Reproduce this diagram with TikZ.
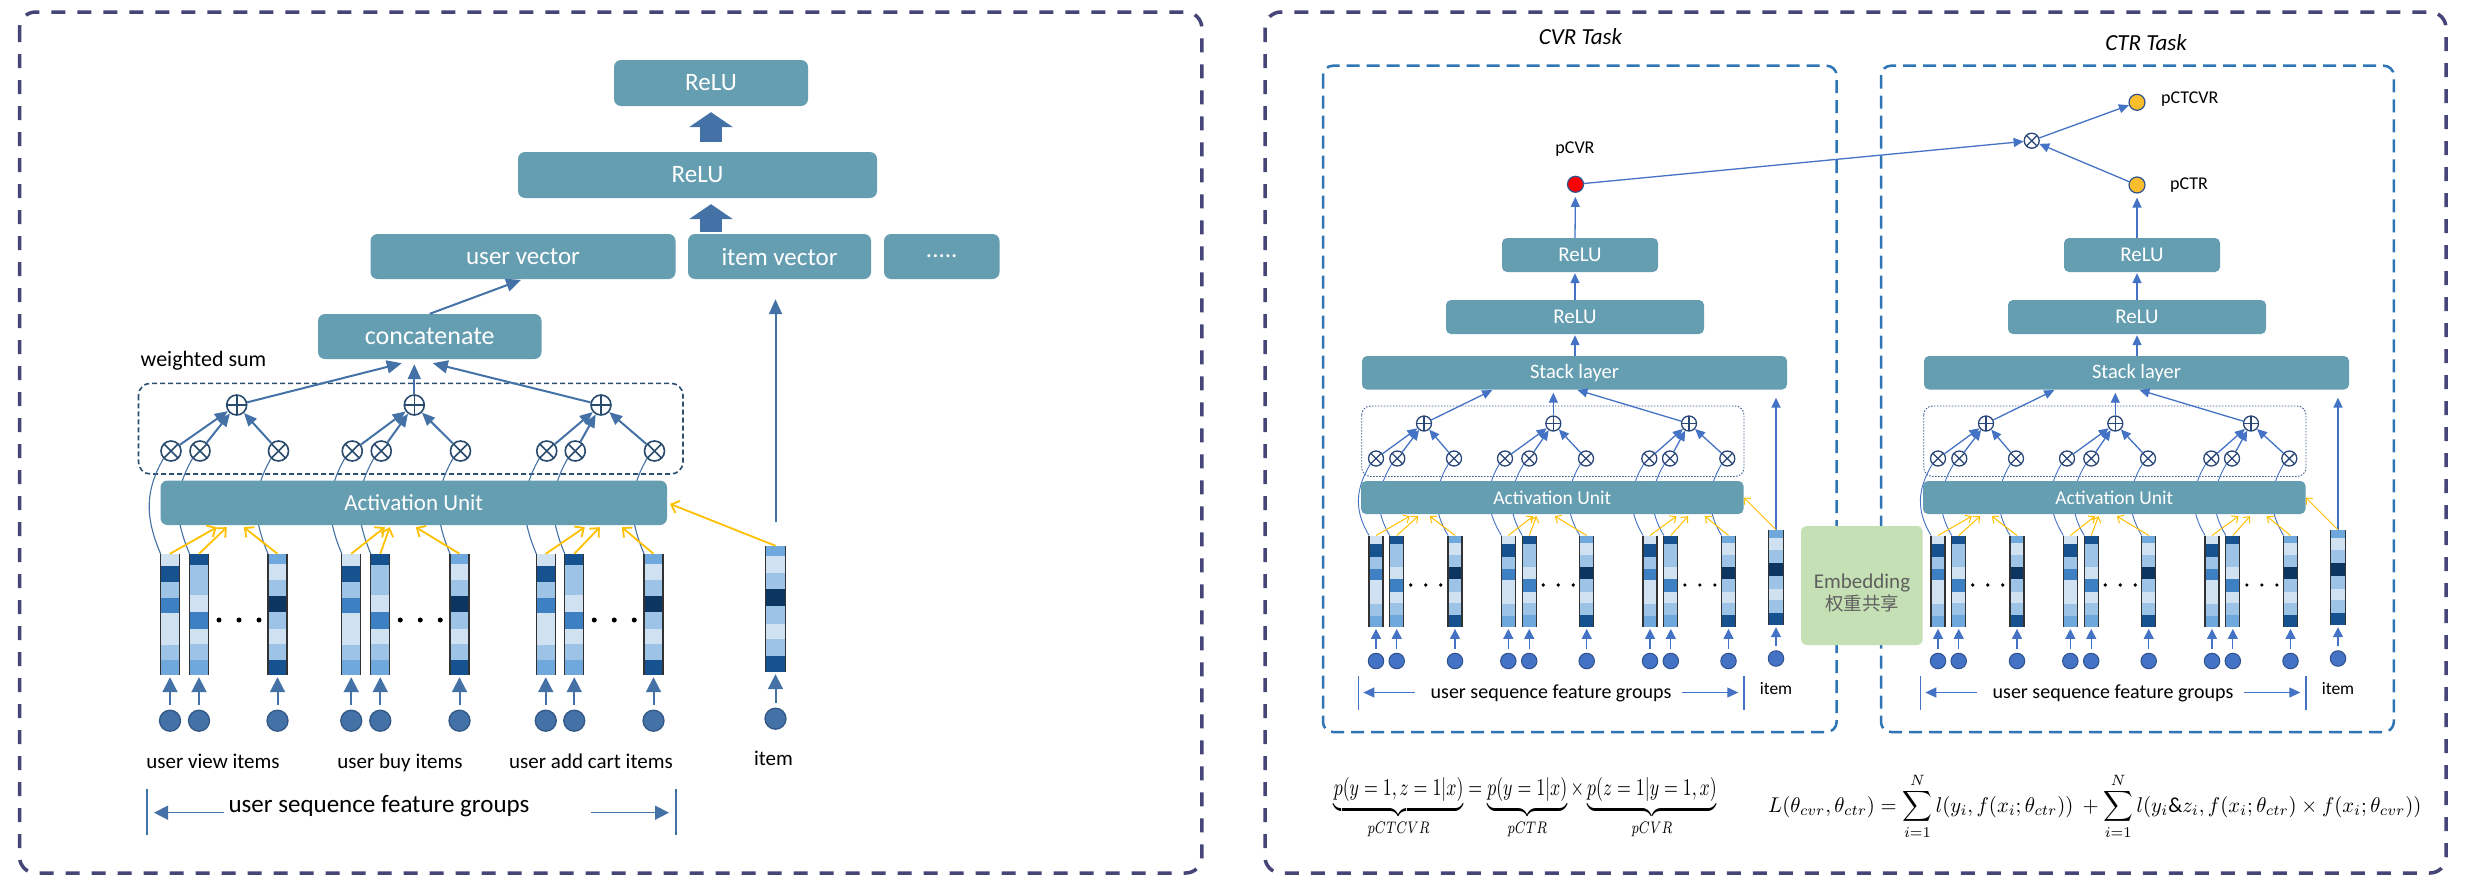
\documentclass[tikz,border=0pt]{standalone}
\usepackage{amsmath}
\usepackage{graphicx}
\usepackage{fontspec}
\setmainfont{Carlito}
\newfontfamily\cjkfont{Noto Sans CJK SC}
\usetikzlibrary{arrows.meta}
\newcommand{\setfs}[1]{\fontsize{#1pt}{#1pt}\selectfont}

\definecolor{boxc}{RGB}{101,158,177}
\definecolor{lblue}{RGB}{68,114,166}
\definecolor{lincd}{RGB}{50,88,135}
\definecolor{rblue}{RGB}{68,114,196}
\definecolor{rincd}{RGB}{47,82,143}
\definecolor{ldk}{RGB}{40,75,110}
\definecolor{rdk}{RGB}{40,70,120}
\definecolor{orng}{RGB}{255,192,0}
\definecolor{ylw}{RGB}{250,190,45}
\definecolor{panelc}{RGB}{69,69,120}
\definecolor{taskc}{RGB}{46,117,182}
\definecolor{lgrpc}{RGB}{46,80,112}
\definecolor{rgrpc}{RGB}{59,91,143}
\definecolor{embg}{RGB}{197,224,180}
\definecolor{embt}{RGB}{95,95,95}
\definecolor{vedgec}{RGB}{50,50,50}
\definecolor{va}{RGB}{208,225,242}
\definecolor{vb}{RGB}{157,195,230}
\definecolor{vc}{RGB}{111,168,220}
\definecolor{vd}{RGB}{61,128,196}
\definecolor{ve}{RGB}{21,82,143}
\definecolor{vf}{RGB}{12,53,97}

\def\patA{0/.096/va,.096/.231/ve,.231/.364/vb,.364/.488/vd,.488/.755/va,.755/.879/vb,.879/1/vc}
\def\patB{0/.088/ve,.088/.342/vb,.342/.479/va,.479/.617/vd,.617/.741/va,.741/.873/vb,.873/1/vc}
\def\patC{0/.08/vc,.08/.212/va,.212/.344/vb,.344/.479/vf,.479/.617/vb,.617/.741/va,.741/.873/vb,.873/1/ve}

% name, center x, top y, width, height, pattern
\newcommand{\vecbar}[6]{%
  \node[inner sep=0pt, minimum width=#4pt, minimum height=#5pt] (#1) at (#2,{#3+#5/2}) {};
  \foreach \pa/\pb/\pc in #6 {\fill[\pc] ({#2-#4/2},{#3+\pa*#5}) rectangle ({#2+#4/2},{#3+\pb*#5});}
  \draw[vedge] (#1.north west) -- (#1.south west) (#1.north east) -- (#1.south east);
}

\newcommand{\taskcol}[1]{%
  \node[rbox, minimum width=156pt, minimum height=34pt, font=\setfs{21}] (#1reluU) at (1580,255) {ReLU};
  \node[rbox, minimum width=258pt, minimum height=34pt, font=\setfs{21}] (#1reluL) at (1575,317) {ReLU};
  \node[rbox, minimum width=425pt, minimum height=33.5pt, font=\setfs{20.5}] (#1stack) at (1574.5,372.75) {Stack layer};
  \draw[rarr, shorten >=1pt] (#1reluL.south |- #1stack.north) -- (#1reluL.south);
  \draw[rarr, shorten >=1pt] (#1reluL.north) -- (#1reluL.north |- #1reluU.south);
  \draw[rgrp] (1361.7,406) rectangle (1744,476.5);
  \foreach \g/\xa/\xb/\xc/\oa/\ob/\oc/\xp in {1/1376/1396.7/1455/1376/1397.3/1454/1424,2/1508.3/1529.2/1586.7/1505/1529.3/1586/1553.3,3/1650/1670.8/1728.5/1649.3/1670/1727.3/1689}{
    \vecbar{#1v\g a}{\xa}{535.7}{13.5}{91}{\patA}
    \vecbar{#1v\g b}{\xb}{535.7}{13.5}{91}{\patB}
    \vecbar{#1v\g c}{\xc}{535.7}{13.5}{91}{\patC}
    \node[roplus] (#1p\g) at (\xp,423.5) {};
    \foreach \k/\xx/\ox in {a/\xa/\oa,b/\xb/\ob,c/\xc/\oc}{
      \node[rotimes] (#1x\g\k) at (\ox,458.5) {};
      \node[rin] (#1c\g\k) at (\xx,661) {};
      \draw[rinarr] (#1c\g\k) -- (#1v\g\k);
      \draw[rcurve] (#1v\g\k.north west) .. controls +(-15,-25) and +(-15,25) .. (#1x\g\k.south west);
      \draw[rarr] (#1x\g\k) -- (#1p\g);
    }
    \foreach \dd in {0,1,2} \fill ({\xb+14+15*\dd},585) circle (1.8pt);
  }
  \draw[rarr, shorten >=1pt] (#1p1) -- ([xshift=131.3pt]#1stack.south west);
  \draw[rarr, shorten >=3pt] (#1p2) -- (#1p2 |- #1stack.south);
  \draw[rarr, shorten >=1pt] (#1p3) -- ([xshift=214.7pt]#1stack.south west);
  \node[rbox, minimum width=382.5pt, minimum height=33pt, font=\setfs{19.5}] (#1au) at (1552.25,497.5) {Activation Unit};
  \foreach \n/\tx in {1a/49,1b/57.3,1c/69,2a/172.3,2b/175.7,2c/194,3a/315.7,3b/327.3,3c/344}
    \draw[roarr] (#1v\n.north) -- ([xshift=\tx pt,yshift=-2pt]#1au.south west);
  \vecbar{#1iv}{1776}{530}{14.6}{95}{\patC}
  \node[rin] (#1ic) at (1776,658.5) {};
  \draw[rinarr] (#1ic) -- (#1iv);
  \draw[rarr, line width=1.8pt, shorten >=8pt] (#1iv.north) -- (#1iv.north |- #1stack.south);
  \draw[roarr] (#1iv.north) -- (#1au.east);
  \node[lbl, font=\setfs{20}] (#1sfg) at (1551,698) {user sequence feature groups};
  \node[lbl, font=\setfs{17.5}] (#1item) at (1776,694) {item};
  \draw[rbar] (1358.3,676) -- (1358.3,710) (1744,676) -- (1744,710);
  \coordinate (#1gal) at (1415,692.5);
  \coordinate (#1gbl) at (1363.3,692.5);
  \coordinate (#1gar) at (1682.3,692.5);
  \coordinate (#1gbr) at (1738.3,692.5);
  \draw[rgarr] (#1gal) -- (#1gbl);
  \draw[rgarr] (#1gar) -- (#1gbr);
}

\begin{document}
\begin{tikzpicture}[x=1pt,y=-1pt,
  panelbox/.style={draw=panelc, line width=3.5pt, dash pattern=on 14pt off 12pt, rounded corners=16pt},
  lbox/.style={fill=boxc, rounded corners=7pt, text=white, inner sep=0pt, font=\setfs{25}},
  rbox/.style={fill=boxc, rounded corners=5pt, text=white, inner sep=0pt, font=\setfs{20}},
  lgrp/.style={draw=lgrpc, line width=1.6pt, dash pattern=on 5pt off 3pt, rounded corners=12pt},
  rgrp/.style={draw=rgrpc, line width=0.9pt, dash pattern=on 1.5pt off 1.5pt, rounded corners=9pt},
  taskbox/.style={draw=taskc, line width=2.5pt, dash pattern=on 13pt off 7pt, rounded corners=10pt},
  vedge/.style={draw=vedgec, line width=1.2pt},
  lotimes/.style={circle, draw=ldk, fill=white, line width=1.6pt, minimum size=20pt, inner sep=0pt,
    path picture={\draw[ldk, line width=1.6pt] (path picture bounding box.north west) -- (path picture bounding box.south east) (path picture bounding box.north east) -- (path picture bounding box.south west);}},
  loplus/.style={circle, draw=ldk, fill=white, line width=1.6pt, minimum size=20pt, inner sep=0pt,
    path picture={\draw[ldk, line width=1.6pt] (path picture bounding box.north) -- (path picture bounding box.south) (path picture bounding box.west) -- (path picture bounding box.east);}},
  rotimes/.style={circle, draw=rdk, fill=white, line width=1.3pt, minimum size=15pt, inner sep=0pt,
    path picture={\draw[rdk, line width=1.3pt] (path picture bounding box.north west) -- (path picture bounding box.south east) (path picture bounding box.north east) -- (path picture bounding box.south west);}},
  roplus/.style={circle, draw=rdk, fill=white, line width=1.3pt, minimum size=15pt, inner sep=0pt,
    path picture={\draw[rdk, line width=1.3pt] (path picture bounding box.north) -- (path picture bounding box.south) (path picture bounding box.west) -- (path picture bounding box.east);}},
  lin/.style={circle, fill=lblue, draw=lincd, line width=1.3pt, minimum size=21pt, inner sep=0pt},
  rin/.style={circle, fill=rblue, draw=rincd, line width=1pt, minimum size=15.5pt, inner sep=0pt},
  larr/.style={draw=lblue, line width=2pt, -{Triangle[length=15pt,width=13pt]}},
  lsum/.style={draw=lblue, line width=2pt, -{Triangle[length=13pt,width=11pt]}},
  linarr/.style={draw=lblue, line width=2pt, -{Triangle[length=15pt,width=15pt]}, shorten <=5pt, shorten >=2pt},
  lcurve/.style={draw=lblue, line width=1.1pt},
  loarr/.style={draw=orng, line width=1.8pt, -{Straight Barb[length=7pt,width=13pt]}},
  blockarr/.style={draw=lblue, line width=22pt, -{Triangle[length=15pt,width=44pt,line width=0pt]}},
  rarr/.style={draw=rblue, line width=1.3pt, -{Triangle[length=10pt,width=9pt]}},
  rinarr/.style={draw=rblue, line width=1.3pt, -{Triangle[length=10pt,width=10pt]}, shorten <=4pt, shorten >=2pt},
  rcurve/.style={draw=rblue, line width=0.9pt},
  roarr/.style={draw=orng, line width=1pt, -{Straight Barb[length=5pt,width=9pt]}},
  lbar/.style={draw=lblue, line width=1.5pt},
  rbar/.style={draw=rblue, line width=1.2pt},
  lgarr/.style={draw=lblue, line width=1.5pt, -{Triangle[length=14pt,width=14pt]}},
  rgarr/.style={draw=rblue, line width=1.2pt, -{Triangle[length=11pt,width=10pt]}},
  lbl/.style={anchor=base, inner sep=0pt, font=\setfs{21}},
  embtxt/.style={anchor=base, inner sep=0pt, text=embt},
]
\useasboundingbox (0,0) rectangle (2466,894);
\fill[white] (0,0) rectangle (2466,894);

% ---------- panels ----------
\draw[panelbox] (19.6,12) rectangle (1201.8,873);
\draw[panelbox] (1265,12) rectangle (2446,873);

% ---------- left panel ----------
\node[lbox, minimum width=194pt, minimum height=46pt] (reluT) at (711,83) {ReLU};
\node[lbox, minimum width=359pt, minimum height=46pt] (reluM) at (697.5,175) {ReLU};
\node[lbox, minimum width=305pt, minimum height=45pt] (uvec) at (523,256.5) {user vector};
\node[lbox, minimum width=183pt, minimum height=45pt] (ivec) at (779.5,256.5) {item vector};
\node[lbox, minimum width=115.5pt, minimum height=45pt] (more) at (941.75,256.5) {.....};
\node[lbox, minimum width=223.5pt, minimum height=45pt, font=\setfs{26}] (concat) at (429.75,336.5) {concatenate};
\draw[blockarr, shorten <=10pt, shorten >=6pt] (reluT.south |- reluM.north) -- (reluT.south);
\draw[blockarr, shorten <=2pt, shorten >=6pt] (reluT.south |- ivec.north) -- (reluT.south |- reluM.south);
\draw[larr, shorten >=2pt] (concat.north) -- (uvec.south);

\node[lbl, font=\setfs{22}] (wsum) at (203.5,366) {weighted sum};
\draw[lgrp] (138.5,383.3) rectangle (683,474);

\foreach \g/\xa/\xb/\xc/\xp in {1/170/199/277.5/236.7,2/351.25/380.25/459.5/414.3,3/545.75/574.25/653.5/601}{
  \vecbar{lv\g a}{\xa}{554}{18.5}{121}{\patA}
  \vecbar{lv\g b}{\xb}{554}{18.5}{121}{\patB}
  \vecbar{lv\g c}{\xc}{554}{18.5}{121}{\patC}
  \node[loplus] (lp\g) at (\xp,405) {};
  \foreach \k/\xx in {a/\xa,b/\xb,c/\xc}{
    \node[lotimes] (lx\g\k) at (\xx+1,451) {};
    \node[lin] (lc\g\k) at (\xx,720.7) {};
    \draw[linarr] (lc\g\k) -- (lv\g\k);
    \draw[lcurve] (lv\g\k.north west) .. controls +(-16,-38) and +(-18,32) .. (lx\g\k.south west);
    \draw[lsum] (lx\g\k) -- (lp\g);
  }
  \foreach \dd in {0,1,2} \fill ({\xb+20+20*\dd},620) circle (2.5pt);
}
\draw[larr, shorten >=0pt] (lp1) -- ([xshift=84pt,yshift=-4pt]concat.south west);
\draw[larr, shorten >=5pt] (lp2) -- (lp2 |- concat.south);
\draw[larr, shorten >=0pt] (lp3) -- ([xshift=115pt,yshift=-4pt]concat.south west);

\node[lbox, minimum width=506.5pt, minimum height=44.5pt, font=\setfs{23}] (au) at (413.75,502.75) {Activation Unit};
\foreach \n/\tx in {1a/56.5,1b/66.5,1c/83.5,2a/224.5,2b/229.5,2c/255.5,3a/424.5,3b/439.5,3c/461.5}
  \draw[loarr] (lv\n.north) -- ([xshift=\tx pt,yshift=-2pt]au.south west);

\vecbar{liv}{775.5}{546}{19}{126}{\patC}
\node[lin] (lic) at (775.5,718.7) {};
\draw[linarr] (lic) -- (liv);
\draw[larr, shorten <=24pt, shorten >=20pt] (liv.north) -- (liv.north |- ivec.south);
\draw[loarr, shorten >=3pt] (liv.north) -- (au.east);

\node[lbl] (lab1) at (213,768) {user view items};
\node[lbl] (lab2) at (400,768) {user buy items};
\node[lbl] (lab3) at (591,768) {user add cart items};
\node[lbl] (lab4) at (773.5,765) {item};
\node[lbl, font=\setfs{25}] (lsfg) at (379,812) {user sequence feature groups};
\draw[lbar] (147,789) -- (147,835) (676,789) -- (676,835);
\coordinate (lgal) at (224,812.7);
\coordinate (lgbl) at (154,812.7);
\coordinate (lgar) at (591,812.7);
\coordinate (lgbr) at (669,812.7);
\draw[lgarr] (lgal) -- (lgbl);
\draw[lgarr] (lgar) -- (lgbr);

% ---------- right panel ----------
\draw[taskbox] (1323,65.7) rectangle (1836.6,732);
\draw[taskbox] (1881,65.7) rectangle (2393.8,732);
\node[anchor=base, inner sep=0pt, font=\setfs{23}\itshape] (cvrt) at (1580.5,44) {CVR Task};
\node[anchor=base, inner sep=0pt, font=\setfs{23}\itshape] (ctrt) at (2146,50) {CTR Task};

\taskcol{cvr}
\begin{scope}[xshift=562pt]
\taskcol{ctr}
\end{scope}

\node[fill=embg, rounded corners=6pt, minimum width=121.7pt, minimum height=119pt, inner sep=0pt] (emb) at (1861.85,585.5) {};
\node[embtxt, font=\setfs{21}] (embt1) at (1862,588) {Embedding};
\node[embtxt, font=\cjkfont\setfs{18.5}] (embt2) at (1862,610) {权重共享};

\node[circle, fill=red, draw=rincd, line width=1.2pt, minimum size=16pt, inner sep=0pt] (pcvr) at (1575.5,184.3) {};
\node[lbl, font=\setfs{18}] (pcvrl) at (1575,153) {pCVR};
\node[circle, fill=ylw, draw=rincd, line width=1.2pt, minimum size=16pt, inner sep=0pt] (pctr) at (2137,185) {};
\node[circle, fill=ylw, draw=rincd, line width=1.2pt, minimum size=16pt, inner sep=0pt] (pctcvr) at (2137,102.3) {};
\node[rotimes] (mul) at (2031.7,140.7) {};
\node[anchor=base west, inner sep=0pt, font=\setfs{18}] (pctrl) at (2170,189) {pCTR};
\node[anchor=base west, inner sep=0pt, font=\setfs{18}] (pctcvrl) at (2161,103) {pCTCVR};
\draw[rarr, shorten >=4pt] (cvrreluL.north |- cvrreluU.north) -- (pcvr);
\draw[rarr, shorten >=4pt] (ctrreluL.north |- ctrreluU.north) -- (pctr);
\draw[rarr] (pcvr) -- (mul);
\draw[rarr] (mul) -- (pctcvr);
\draw[rarr] (pctr) -- (mul);

% ---------- formulas ----------
\node[anchor=base west, inner sep=0pt] (f1) at (1333.6,795) {\resizebox{383pt}{18pt}{$\underbrace{p(y=1,z=1|x)}_{pCTCVR}=\underbrace{p(y=1|x)}_{pCTR}\times\underbrace{p(z=1|y=1,x)}_{pCVR}$}};
\node[anchor=base west, inner sep=0pt] (f2) at (1768,812) {\resizebox{653pt}{39pt}{$\displaystyle L(\theta_{cvr},\theta_{ctr})=\sum_{i=1}^{N} l(y_i,f(x_i;\theta_{ctr}))\ +\sum_{i=1}^{N} l(y_i\&z_i,f(x_i;\theta_{ctr})\times f(x_i;\theta_{cvr}))$}};
\end{tikzpicture}
\end{document}
